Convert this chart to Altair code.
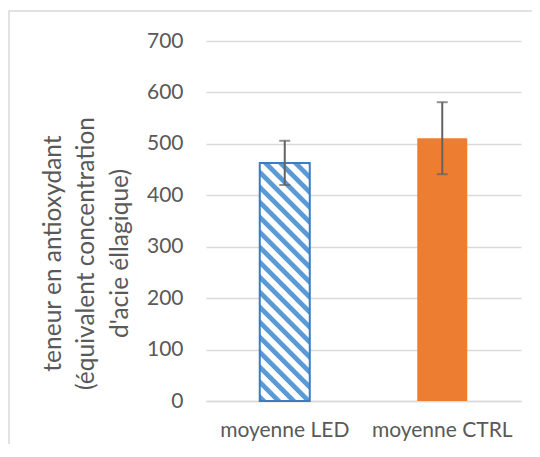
import altair as alt
import pandas as pd

# ---- data ----
categories = ["moyenne LED", "moyenne CTRL"]
means = [463, 511]
errors = [43, 70]
y_ticks = [0, 100, 200, 300, 400, 500, 600, 700]
y_title = ["teneur en antioxydant", "(équivalent concentration", "d'acie éllagique)"]

df = pd.DataFrame({"cat": categories, "mean": means, "err": errors})
df["lo"] = df["mean"] - df["err"]
df["hi"] = df["mean"] + df["err"]

# ---- layout / style ----
W, H = 315, 360
YMAX = 700
BAR = 50
FONT = "Lato"
TXT = "#595959"
GRID = "#d9d9d9"
BLUE = "#5b9bd5"
BLUE_EDGE = "#3b7cc2"
ORANGE = "#ed7d31"


def stripe_gradient(value):
    """Diagonal hatching (top-left to bottom-right) as a sharp-stop gradient."""
    w = BAR
    h = value / YMAX * H
    r = h / w
    c = (1 + r) / (1 + r * r)
    span = (w + h) / 2 ** 0.5          # screen distance covered by t in [0, 1]
    period = 10.6
    frac = 0.45
    soft = 0.8
    stops = []
    k = 0
    pos = 0.0
    while pos < span:
        a = pos
        b = pos + frac * period
        stops += [
            {"offset": min(a / span, 1), "color": "#ffffff"},
            {"offset": min((a + soft) / span, 1), "color": BLUE},
            {"offset": min(b / span, 1), "color": BLUE},
            {"offset": min((b + soft) / span, 1), "color": "#ffffff"},
        ]
        k += 1
        pos = k * period
    return {
        "gradient": "linear",
        "x1": 0, "y1": 1,
        "x2": c, "y2": 1 - c * r,
        "stops": stops,
    }


x_enc = alt.X(
    "cat:N",
    sort=categories,
    scale=alt.Scale(paddingInner=0, paddingOuter=0),
    axis=alt.Axis(
        title=None, labelAngle=0, ticks=False, domain=True,
        domainColor=GRID, domainWidth=1.5,
        labelFont=FONT, labelFontSize=21, labelColor=TXT,
        labelPadding=18, labelBaseline="top",
    ),
)
y_scale = alt.Scale(domain=[0, YMAX], nice=False, zero=True)

base = alt.Chart(df)

bars_led = base.transform_filter(alt.datum.cat == categories[0]).mark_bar(
    size=BAR, fill=stripe_gradient(means[0]), stroke=BLUE_EDGE, strokeWidth=2
).encode(
    x=x_enc,
    y=alt.Y(
        "mean:Q", scale=y_scale,
        axis=alt.Axis(
            values=y_ticks, title=y_title, grid=True, gridColor=GRID, gridWidth=1.5,
            domain=False, ticks=False, labelPadding=23,
            labelFont=FONT, labelFontSize=21, labelColor=TXT,
            titleFont=FONT, titleFontSize=24.5, titleFontWeight="normal", titleColor=TXT,
            titleLineHeight=33.5, titleAngle=270, titleX=-153, titleY=212,
            titleAlign="center", titleBaseline="middle",
        ),
    ),
)

bars_ctrl = base.transform_filter(alt.datum.cat == categories[1]).mark_bar(
    size=BAR, color=ORANGE
).encode(x=x_enc, y=alt.Y("mean:Q", scale=y_scale))

err_rule = base.mark_rule(color="#636363", strokeWidth=2).encode(
    x=x_enc, y=alt.Y("lo:Q", scale=y_scale), y2="hi:Q"
)
cap_lo = base.mark_tick(color="#636363", thickness=2, size=11).encode(
    x=x_enc, y=alt.Y("lo:Q", scale=y_scale)
)
cap_hi = base.mark_tick(color="#636363", thickness=2, size=11).encode(
    x=x_enc, y=alt.Y("hi:Q", scale=y_scale)
)

frame = alt.Chart(pd.DataFrame({"f": [0]})).mark_rect(
    fill=None, stroke=GRID, strokeWidth=1.5
).encode(
    x=alt.value(-197), x2=alt.value(W + 60),
    y=alt.value(-30), y2=alt.value(H + 80),
)

chart = alt.layer(
    frame, bars_led, bars_ctrl, err_rule, cap_lo, cap_hi
).properties(
    width=W, height=H,
    autosize=alt.AutoSizeParams(type="none"),
    padding={"left": 198, "top": 33, "right": 11, "bottom": 43},
    background="white",
).configure_view(stroke=None)

chart.save("out.html", embed_options={"renderer": "svg", "actions": False})
